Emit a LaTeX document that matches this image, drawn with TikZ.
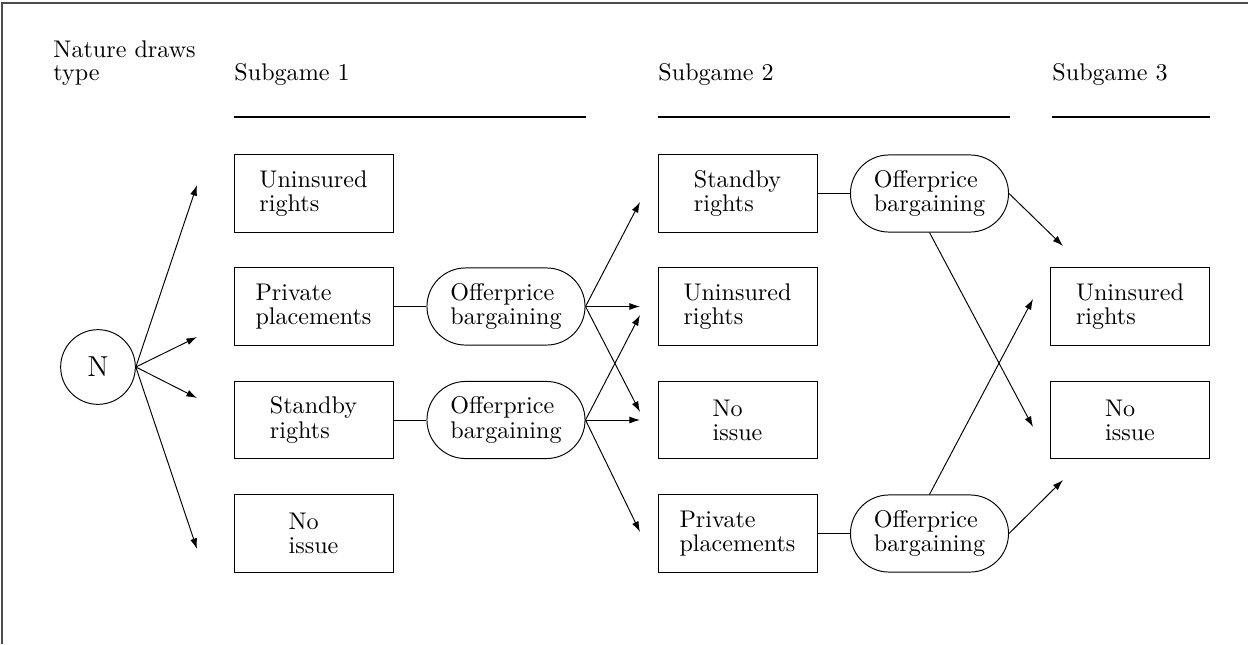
\documentclass[tikz,border=0pt]{standalone}
\usetikzlibrary{arrows.meta}
\begin{document}
\begin{tikzpicture}[x=0.415pt,y=-0.415pt,
  box/.style={draw, minimum width=66pt, minimum height=32pt, align=left,
    font=\fontsize{10}{10}\selectfont, inner sep=0pt},
  oval/.style={draw, rounded corners=16pt, minimum width=65.6pt, minimum height=32pt,
    align=left, font=\fontsize{10}{10}\selectfont, inner sep=0pt},
  arr/.style={-{Latex[length=4.4pt,width=2.9pt]}},
  lbl/.style={inner sep=0pt, font=\fontsize{10}{9.5}\selectfont, align=left},
  rule/.style={line width=0.45pt}
]
\useasboundingbox (0,0) rectangle (1248,644);
% frame (top and left edges visible)
\draw[line width=0.6pt, black!70] (2,644) -- (2,3) -- (1248,3);

% headings
\node[lbl, anchor=north west] (nat) at (53,40) {Nature draws\\type};
\node[lbl, anchor=base west] (sg1) at (234,80) {Subgame 1};
\node[lbl, anchor=base west] (sg2) at (658,80) {Subgame 2};
\node[lbl, anchor=base west] (sg3) at (1052,80) {Subgame 3};
\draw[rule] (234,117) -- (586,117);
\draw[rule] (658,117) -- (1010,117);
\draw[rule] (1052,117) -- (1210,117);

% nature node
\node[draw, circle, minimum size=31pt, inner sep=0pt, font=\large] (N) at (98,367) {N};

% column 1
\node[box] (a1) at (313.5,193.5) {Uninsured\\rights};
\node[box] (a2) at (313.5,306.5) {Private\\placements};
\node[box] (a3) at (313.5,420) {Standby\\rights};
\node[box] (a4) at (313.5,533.5) {No\\issue};
\node[oval] (o1) at (506,306.5) {Offerprice\\bargaining};
\node[oval] (o2) at (506,420) {Offerprice\\bargaining};

% column 2
\node[box] (b1) at (737.5,193.5) {Standby\\rights};
\node[box] (b2) at (737.5,306.5) {Uninsured\\rights};
\node[box] (b3) at (737.5,420) {No\\issue};
\node[box] (b4) at (737.5,533.5) {Private\\placements};
\node[oval] (p1) at (929.5,193.5) {Offerprice\\bargaining};
\node[oval] (p2) at (929.5,533.5) {Offerprice\\bargaining};

% column 3
\node[box] (c1) at (1130,306.5) {Uninsured\\rights};
\node[box] (c2) at (1130,420) {No\\issue};

% free arrow ends
\coordinate (n1) at (197,185);
\coordinate (n2) at (197,337);
\coordinate (n3) at (197,398);
\coordinate (n4) at (197,549);
\coordinate (e1) at (640,202);
\coordinate (e2) at (640,306.5);
\coordinate (e3) at (640,412);
\coordinate (f1) at (640,315);
\coordinate (f2) at (640,420);
\coordinate (f3) at (640,532);
\coordinate (g1) at (1063,246);
\coordinate (g2) at (1033,427);
\coordinate (h1) at (1033,299);
\coordinate (h2) at (1063,480);

% connectors
\foreach \t in {n1,n2,n3,n4} \draw[arr] (N.east) -- (\t);
\foreach \t in {e1,e2,e3} \draw[arr] (o1.east) -- (\t);
\foreach \t in {f1,f2,f3} \draw[arr] (o2.east) -- (\t);
\draw (a2.east) -- (o1.west);
\draw (a3.east) -- (o2.west);
\draw (b1.east) -- (p1.west);
\draw (b4.east) -- (p2.west);
\draw[arr] (p1.east) -- (g1);
\draw[arr] (p1.south) -- (g2);
\draw[arr] (p2.north) -- (h1);
\draw[arr] (p2.east) -- (h2);
\end{tikzpicture}
\end{document}
